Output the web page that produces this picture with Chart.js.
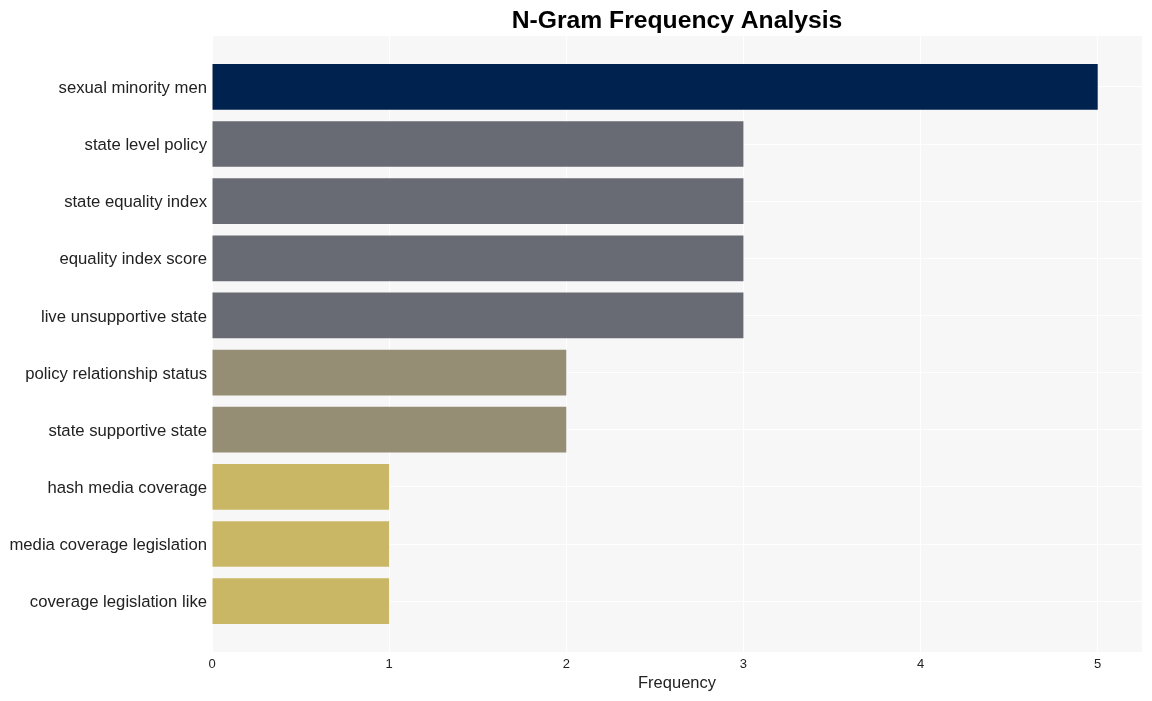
<!DOCTYPE html>
<html>
<head>
<meta charset="utf-8">
<title>N-Gram Frequency Analysis</title>
<script src="https://cdn.jsdelivr.net/npm/chart.js@4.4.0/dist/chart.umd.min.js"></script>
<style>
    body { margin: 0; background: #ffffff; }
    #wrap { width: 1152px; height: 701px; }
</style>
</head>
<body>
<div id="wrap"><canvas id="ngramChart" width="1152" height="701"></canvas></div>
<script>
// n-gram 라벨과 빈도
const ngrams = [
    'sexual minority men',
    'state level policy',
    'state equality index',
    'equality index score',
    'live unsupportive state',
    'policy relationship status',
    'state supportive state',
    'hash media coverage',
    'media coverage legislation',
    'coverage legislation like'
];
const frequencies = [5, 3, 3, 3, 3, 2, 2, 1, 1, 1];
const xTicks = [0, 1, 2, 3, 4, 5];

// 빈도별 색상
const colorByFreq = {
    5: '#00224e',
    3: '#686b73',
    2: '#958d74',
    1: '#c9b765'
};

const fontFamily = '"Liberation Sans", Arial, sans-serif';

// Plot background + centered title
const backgroundPlugin = {
    id: 'plotBackground',
    beforeDraw: function(chart) {
        const area = chart.chartArea;
        const ctx = chart.ctx;
        ctx.save();
        ctx.fillStyle = '#f7f7f7';
        ctx.fillRect(area.left, area.top, area.right - area.left, area.bottom - area.top);
        ctx.restore();
    },
    afterDraw: function(chart) {
        const area = chart.chartArea;
        const ctx = chart.ctx;
        ctx.save();
        ctx.fillStyle = '#000000';
        ctx.font = 'bold 24.7px ' + fontFamily;
        ctx.textAlign = 'center';
        ctx.textBaseline = 'middle';
        ctx.fillText('N-Gram Frequency Analysis', (area.left + area.right) / 2, 21);
        ctx.restore();
    }
};

const points = frequencies.map((f, i) => ({ x: f, y: i }));

const ctx = document.getElementById('ngramChart').getContext('2d');
new Chart(ctx, {
    type: 'bar',
    data: {
        datasets: [{
            data: points,
            backgroundColor: frequencies.map(f => colorByFreq[f]),
            borderWidth: 0,
            categoryPercentage: 1.0,
            barPercentage: 0.8
        }]
    },
    options: {
        indexAxis: 'y',
        responsive: false,
        animation: false,
        layout: {
            padding: { top: 36, right: 10, bottom: 0, left: 0 }
        },
        scales: {
            x: {
                type: 'linear',
                min: 0,
                max: 5.25,
                afterBuildTicks: function(scale) {
                    scale.ticks = xTicks.map(v => ({ value: v }));
                },
                afterFit: function(scale) {
                    scale.height = 49;
                },
                grid: { color: '#ffffff', lineWidth: 1, drawTicks: false },
                border: { display: false },
                ticks: {
                    padding: 5,
                    color: '#222222',
                    font: { family: fontFamily, size: 13 }
                },
                title: {
                    display: true,
                    text: 'Frequency',
                    color: '#222222',
                    padding: { top: 4, bottom: 8 },
                    font: { family: fontFamily, size: 16.5 }
                }
            },
            y: {
                type: 'linear',
                reverse: true,
                offset: false,
                min: -0.89,
                max: 9.89,
                afterBuildTicks: function(scale) {
                    scale.ticks = ngrams.map((_, i) => ({ value: i }));
                },
                afterFit: function(scale) {
                    scale.width = 212;
                },
                // 격자선은 막대 중앙에
                grid: { color: '#ffffff', lineWidth: 1, drawTicks: false, offset: false },
                border: { display: false },
                ticks: {
                    padding: 5,
                    labelOffset: 1.5,
                    color: '#222222',
                    font: { family: fontFamily, size: 16.7 },
                    callback: function(value) {
                        return ngrams[value] !== undefined ? ngrams[value] : '';
                    }
                }
            }
        },
        plugins: {
            legend: { display: false },
            tooltip: { enabled: false },
            title: { display: false }
        }
    },
    plugins: [backgroundPlugin]
});
</script>
</body>
</html>
